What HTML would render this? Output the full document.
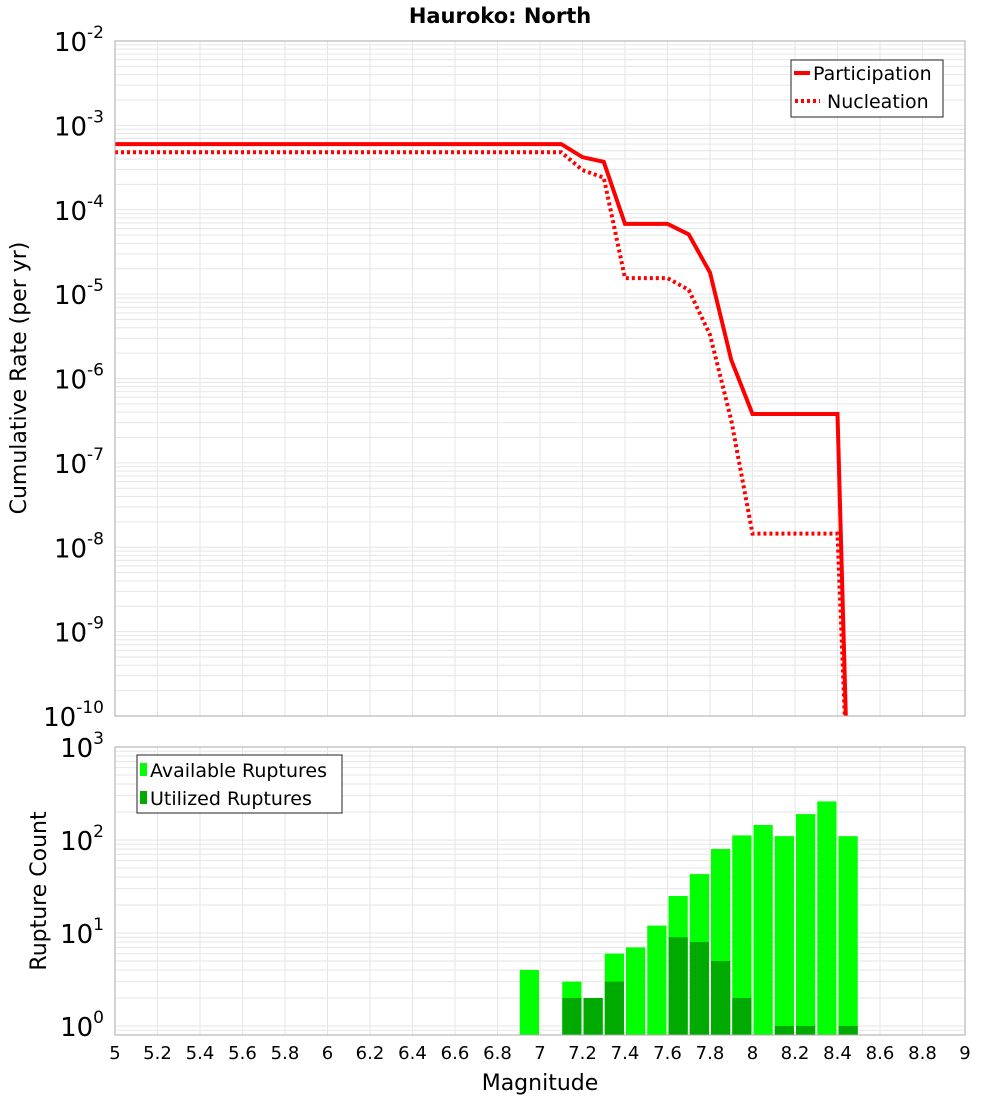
<!DOCTYPE html>
<html><head><meta charset="utf-8"><style>
body{margin:0;background:#fff;}
svg{display:block;font-family:"DejaVu Sans","Liberation Sans",sans-serif;}
</style></head><body>
<svg id="chart" width="1000" height="1100" viewBox="0 0 1000 1100" xmlns="http://www.w3.org/2000/svg">
<text x="500" y="23" text-anchor="middle" font-size="21" font-weight="bold">Hauroko: North</text>
<g id="topg"></g><g id="botg"></g>
<text transform="translate(26,378) rotate(-90)" text-anchor="middle" font-size="22">Cumulative Rate (per yr)</text>
<text transform="translate(46,891) rotate(-90)" text-anchor="middle" font-size="22">Rupture Count</text>
<text x="540" y="1090" text-anchor="middle" font-size="22">Magnitude</text>
</svg>
<script>
const partMags=[5,7.1,7.2,7.3,7.4,7.6,7.7,7.8,7.9,8.0,8.4,8.45];
const partRates=[6e-4,6e-4,4.2e-4,3.7e-4,6.8e-5,6.8e-5,5.1e-5,1.8e-5,1.66e-6,3.8e-7,3.8e-7,1e-11];
const nuclMags=[5,7.1,7.2,7.3,7.4,7.6,7.7,7.8,7.9,8.0,8.4,8.45];
const nuclRates=[4.8e-4,4.8e-4,2.95e-4,2.4e-4,1.55e-5,1.55e-5,1.12e-5,3.3e-6,3.2e-7,1.45e-8,1.45e-8,1e-11];
const binMags=[6.95,7.05,7.15,7.25,7.35,7.45,7.55,7.65,7.75,7.85,7.95,8.05,8.15,8.25,8.35,8.45];
const availCounts=[4,0,3,2,6,7,12,25,43,80,112,145,110,190,260,110];
const usedCounts=[0,0,2,2,3,0,0,9,8,5,2,0,1,1,0,1];
const xTicks=[5,5.2,5.4,5.6,5.8,6,6.2,6.4,6.6,6.8,7,7.2,7.4,7.6,7.8,8,8.2,8.4,8.6,8.8,9];

const NS='http://www.w3.org/2000/svg';
const L=115,R=965;
function el(p,t,a){const e=document.createElementNS(NS,t);for(const k in a)e.setAttribute(k,a[k]);p.appendChild(e);return e;}
const X=m=>L+(m-5)/4*(R-L);
const TT=41,TB=716,BT=747,BB=1035;
const Yt=v=>TT+(-2-Math.log10(v))/8*(TB-TT);
const bMin=-0.097;
const Yb=v=>BT+(3-Math.log10(Math.max(v,1e-9)))/(3-bMin)*(BB-BT);
const gTop=document.getElementById('topg'),gBot=document.getElementById('botg');

function grid(g,yf,decs,t,b,nm){
  const gg=el(g,'g',{});
  
  
  for(const m of xTicks){const x=X(m);el(gg,'line',{x1:x,x2:x,y1:t,y2:b,stroke:'#e6e6e6','stroke-width':1});}
  for(let d=decs[0];d<decs[1];d++)for(let k=1;k<10;k++){const y=yf(k*Math.pow(10,d));if(y<t-0.5||y>b+0.5)continue;el(gg,'line',{x1:L,x2:R,y1:y,y2:y,stroke:'#e6e6e6','stroke-width':1});}
}
grid(gTop,Yt,[-10,-2],TT,TB,'top-grid');
grid(gBot,Yb,[-1,3],BT,BB,'bottom-grid');

const defs=el(gTop,'defs',{});
const cp=el(defs,'clipPath',{id:'ct'});el(cp,'rect',{x:L,y:TT,width:R-L,height:TB-TT});

function line(m,r,dash,nm){
  const p=el(gTop,'polyline',{points:m.map((v,i)=>X(v)+','+Yt(r[i])).join(' '),fill:'none',stroke:'#ff0000','stroke-width':4,'clip-path':'url(#ct)'});
  if(dash)p.setAttribute('stroke-dasharray','3 3');
  
  
}
line(nuclMags,nuclRates,true,'nucleation-line');
line(partMags,partRates,false,'participation-line');

const bw=(R-L)/40;
binMags.forEach((m,i)=>{
  if(availCounts[i]>0){const y=Yb(availCounts[i]);const r=el(gBot,'rect',{x:X(m)-bw/2+1,y:y,width:bw-2,height:BB-y,fill:'#00ff00'});
    
    }
  if(usedCounts[i]>0){const y=Yb(usedCounts[i]);const r=el(gBot,'rect',{x:X(m)-bw/2+1,y:y,width:bw-2,height:BB-y,fill:'#00aa00'});
    
    }
});

const f1=el(gTop,'rect',{x:L,y:TT,width:R-L,height:TB-TT,fill:'none',stroke:'#aaa','stroke-width':1});


const f2=el(gBot,'rect',{x:L,y:BT,width:R-L,height:BB-BT,fill:'none',stroke:'#aaa','stroke-width':1});



function ylab(g,y,exp,nm){
  const t=el(g,'text',{x:104,y:y+10,'text-anchor':'end','font-size':26});
  
  
  const a=el(t,'tspan',{});a.textContent='10';
  const b=el(t,'tspan',{dy:-13,'font-size':17});b.textContent=String(exp);
}
for(let d=-2;d>=-10;d--)ylab(gTop,Yt(Math.pow(10,d)),d,'top-y-tick-label');
for(let d=3;d>=0;d--)ylab(gBot,Yb(Math.pow(10,d)),d,'bottom-y-tick-label');

xTicks.forEach(m=>{const t=el(gBot,'text',{x:X(m),y:1059,'text-anchor':'middle','font-size':18});
  
  
  t.textContent=String(m);});

const lg=el(gTop,'g',{});


el(lg,'rect',{x:791,y:60,width:152,height:57,fill:'#fff',stroke:'#222','stroke-width':1});
el(lg,'line',{x1:794,x2:810,y1:73,y2:73,stroke:'#f00','stroke-width':4});
el(lg,'line',{x1:795,x2:820,y1:101,y2:101,stroke:'#f00','stroke-width':4,'stroke-dasharray':'3 3'});
let t1=el(lg,'text',{x:813,y:80,'font-size':19});t1.textContent='Participation';
let t2=el(lg,'text',{x:827,y:108,'font-size':19});t2.textContent='Nucleation';

const lb=el(gBot,'g',{});


el(lb,'rect',{x:137,y:755,width:205,height:58,fill:'#fff',stroke:'#222','stroke-width':1});
el(lb,'rect',{x:140,y:763,width:7,height:13,fill:'#00ff00'});
el(lb,'rect',{x:140,y:791,width:7,height:13,fill:'#00aa00'});
let t3=el(lb,'text',{x:150,y:777,'font-size':19});t3.textContent='Available Ruptures';
let t4=el(lb,'text',{x:150,y:805,'font-size':19});t4.textContent='Utilized Ruptures';
</script>
</body></html>
